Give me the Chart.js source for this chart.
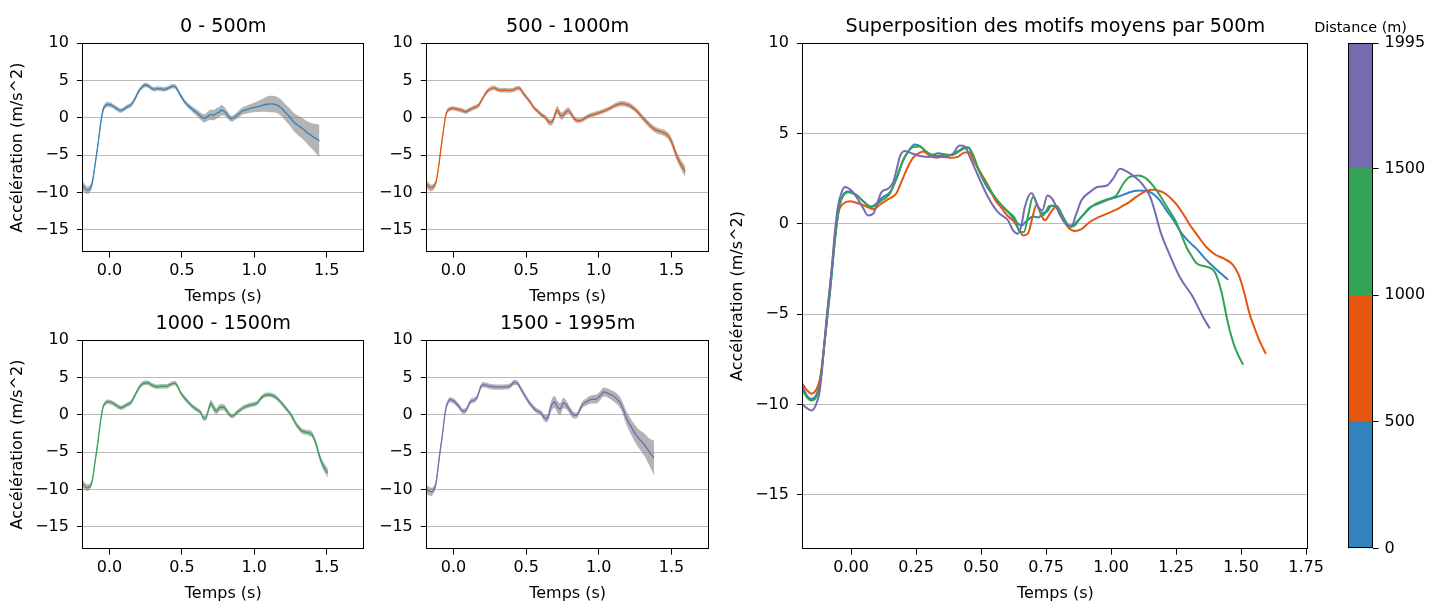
<!DOCTYPE html>
<html>
<head>
<meta charset="utf-8">
<script src="https://cdn.jsdelivr.net/npm/chart.js@4.4.1/dist/chart.umd.min.js"></script>
<style>
html,body{margin:0;padding:0;background:#fff;width:1443px;height:601px;overflow:hidden;}
.box{position:absolute;}
canvas{display:block;}
</style>
</head>
<body>
<script>
// ---------------- data ----------------
const panelTitles = ['0 - 500m', '500 - 1000m', '1000 - 1500m', '1500 - 1995m'];
const bigTitle = 'Superposition des motifs moyens par 500m';
const xAxisTitle = 'Temps (s)';
const yAxisTitle = 'Accélération (m/s^2)';
const colorbarTitle = 'Distance (m)';
const seriesColors = ['#3182bd', '#e6550d', '#31a354', '#756bb1'];

const yTicks = [-15, -10, -5, 0, 5, 10];
const yTickLabels = ['\u221215', '\u221210', '\u22125', '0', '5', '10'];
const xTicksSmall = [0, 0.5, 1.0, 1.5];
const xTickLabelsSmall = ['0.0', '0.5', '1.0', '1.5'];
const xTicksBig = [0, 0.25, 0.5, 0.75, 1.0, 1.25, 1.5, 1.75];
const xTickLabelsBig = ['0.00', '0.25', '0.50', '0.75', '1.00', '1.25', '1.50', '1.75'];
const cbBounds = [0, 500, 1000, 1500, 1995];
const cbTickLabels = ['0', '500', '1000', '1500', '1995'];

// 0 - 500 m : time (s), mean acceleration, std band
const t0_500 = [-0.187,-0.17,-0.152,-0.135,-0.12,-0.10,-0.08,-0.06,-0.045,-0.03,-0.012,0.02,0.05,0.078,0.10,0.12,0.15,0.175,0.20,0.22,0.245,0.265,0.29,0.31,0.335,0.36,0.38,0.41,0.435,0.45,0.47,0.49,0.52,0.55,0.58,0.61,0.636,0.655,0.675,0.70,0.72,0.738,0.755,0.771,0.79,0.81,0.822,0.841,0.867,0.89,0.918,0.95,0.982,1.015,1.046,1.085,1.11,1.15,1.187,1.215,1.24,1.27,1.30,1.33,1.36,1.38,1.41,1.43,1.45];
const acc0_500 = [-9.0,-9.5,-9.7,-9.5,-8.8,-6.3,-3.6,-0.6,1.0,1.6,1.78,1.6,1.2,0.95,1.15,1.45,1.75,2.5,3.5,4.0,4.38,4.3,3.95,3.8,3.9,3.85,3.8,4.0,4.2,4.2,3.7,3.0,2.1,1.5,1.0,0.55,0.1,-0.1,0.15,0.4,0.35,0.6,0.7,1.0,0.9,0.5,0.2,-0.15,0.1,0.45,0.9,1.1,1.3,1.45,1.6,1.8,1.84,1.75,1.3,0.7,0.2,-0.5,-1.0,-1.4,-1.9,-2.2,-2.6,-2.85,-3.1];
const sd0_500 = [0.6,0.6,0.5,0.5,0.5,0.5,0.5,0.4,0.4,0.35,0.35,0.3,0.3,0.3,0.3,0.3,0.3,0.3,0.3,0.3,0.3,0.3,0.3,0.3,0.3,0.3,0.3,0.3,0.3,0.3,0.3,0.3,0.3,0.35,0.4,0.45,0.5,0.55,0.6,0.7,0.7,0.7,0.7,0.7,0.6,0.5,0.45,0.4,0.4,0.45,0.5,0.55,0.6,0.7,0.8,1.0,1.1,1.1,1.1,1.1,1.15,1.2,1.3,1.4,1.5,1.6,1.8,2.0,2.15];

// 500 - 1000 m
const t500_1000 = [-0.187,-0.17,-0.152,-0.135,-0.12,-0.10,-0.088,-0.069,-0.056,-0.045,-0.031,-0.005,0.033,0.06,0.085,0.11,0.136,0.16,0.175,0.19,0.206,0.22,0.238,0.26,0.277,0.30,0.328,0.35,0.38,0.41,0.437,0.455,0.475,0.495,0.514,0.535,0.553,0.58,0.604,0.625,0.649,0.662,0.68,0.70,0.713,0.732,0.745,0.771,0.79,0.809,0.822,0.835,0.86,0.886,0.918,0.95,0.982,1.015,1.046,1.07,1.098,1.136,1.16,1.19,1.213,1.25,1.275,1.30,1.33,1.367,1.40,1.437,1.467,1.49,1.51,1.533,1.55,1.57,1.585,1.595];
const acc500_1000 = [-8.85,-9.2,-9.4,-9.2,-8.6,-6.3,-4.4,-1.7,0.0,0.8,1.1,1.25,1.1,0.95,0.8,1.05,1.3,1.5,1.7,2.2,2.75,3.2,3.65,3.9,4.0,3.8,3.65,3.7,3.65,3.7,3.95,3.95,3.4,2.9,2.45,1.9,1.35,0.85,0.4,0.15,-0.4,-0.65,-0.55,0.5,1.05,0.45,0.2,0.7,0.95,0.55,0.1,-0.2,-0.4,-0.3,0.1,0.35,0.55,0.75,1.0,1.2,1.5,1.82,1.88,1.8,1.62,1.1,0.6,0.0,-0.6,-1.3,-1.7,-1.95,-2.25,-2.8,-3.7,-5.0,-5.7,-6.45,-6.9,-7.2];
const sd500_1000 = [0.5,0.5,0.45,0.4,0.4,0.4,0.4,0.35,0.35,0.3,0.3,0.3,0.3,0.3,0.3,0.3,0.3,0.3,0.3,0.3,0.3,0.3,0.3,0.3,0.3,0.3,0.3,0.3,0.3,0.3,0.3,0.3,0.3,0.3,0.3,0.3,0.3,0.3,0.3,0.3,0.4,0.4,0.4,0.5,0.55,0.5,0.5,0.45,0.45,0.4,0.35,0.35,0.3,0.3,0.3,0.3,0.3,0.3,0.3,0.3,0.3,0.35,0.35,0.35,0.35,0.35,0.35,0.35,0.4,0.4,0.4,0.4,0.45,0.5,0.55,0.6,0.6,0.65,0.7,0.7];

// 1000 - 1500 m
const t1000_1500 = [-0.187,-0.17,-0.152,-0.135,-0.12,-0.10,-0.08,-0.06,-0.045,-0.03,-0.012,0.021,0.05,0.078,0.10,0.117,0.149,0.175,0.206,0.238,0.264,0.285,0.303,0.33,0.36,0.39,0.42,0.45,0.47,0.49,0.52,0.55,0.58,0.61,0.63,0.649,0.665,0.68,0.70,0.72,0.738,0.764,0.79,0.815,0.841,0.86,0.88,0.93,0.98,1.02,1.046,1.07,1.104,1.13,1.15,1.175,1.20,1.225,1.25,1.27,1.29,1.31,1.33,1.36,1.38,1.40,1.425,1.445,1.46,1.475,1.49,1.508];
const acc1000_1500 = [-9.2,-9.6,-9.78,-9.6,-8.9,-6.3,-3.6,-0.6,1.0,1.55,1.75,1.57,1.2,0.92,1.1,1.29,1.66,2.58,3.69,4.24,4.28,4.05,3.87,3.75,3.8,3.8,4.05,4.24,3.8,3.0,2.2,1.55,1.0,0.6,0.3,-0.46,-0.45,0.4,1.5,0.9,0.46,1.0,1.0,0.37,-0.18,-0.1,0.28,1.0,1.33,1.57,2.2,2.58,2.67,2.55,2.3,1.85,1.29,0.7,0.1,-0.6,-1.3,-1.8,-2.2,-2.35,-2.44,-2.7,-3.8,-5.2,-6.1,-6.8,-7.3,-7.8];
const sd1000_1500 = [0.5,0.5,0.45,0.4,0.4,0.4,0.4,0.35,0.3,0.3,0.3,0.3,0.3,0.3,0.3,0.3,0.3,0.3,0.3,0.3,0.3,0.3,0.3,0.3,0.3,0.3,0.3,0.3,0.3,0.3,0.3,0.3,0.3,0.3,0.3,0.35,0.35,0.4,0.5,0.5,0.45,0.45,0.4,0.35,0.3,0.3,0.3,0.3,0.3,0.3,0.3,0.3,0.3,0.3,0.3,0.3,0.3,0.3,0.3,0.35,0.35,0.35,0.35,0.35,0.4,0.4,0.45,0.5,0.5,0.55,0.6,0.6];

// 1500 - 1995 m
const t1500_1995 = [-0.187,-0.17,-0.152,-0.135,-0.12,-0.095,-0.075,-0.063,-0.05,-0.035,-0.024,0.0,0.021,0.045,0.065,0.085,0.10,0.117,0.142,0.162,0.175,0.187,0.206,0.238,0.277,0.32,0.36,0.39,0.418,0.437,0.46,0.488,0.527,0.565,0.604,0.623,0.642,0.655,0.668,0.694,0.72,0.735,0.755,0.775,0.803,0.828,0.848,0.865,0.886,0.918,0.95,0.982,1.008,1.034,1.06,1.09,1.12,1.15,1.168,1.19,1.213,1.264,1.315,1.354,1.38];
const acc1500_1995 = [-10.0,-10.2,-10.33,-10.0,-9.2,-5.35,-2.58,-0.55,1.0,1.8,2.03,1.85,1.47,0.9,0.46,0.55,1.1,1.75,1.94,2.3,3.0,3.69,4.02,3.87,3.72,3.7,3.72,3.85,4.33,4.28,3.6,2.67,1.47,0.64,0.18,-0.37,-0.55,-0.1,0.92,1.7,0.92,0.74,1.57,1.35,0.5,-0.05,-0.1,0.5,1.3,1.75,2.05,2.1,2.5,3.04,2.9,2.6,2.2,1.5,0.7,-0.45,-1.3,-2.95,-4.06,-5.17,-5.8];
const sd1500_1995 = [0.6,0.6,0.55,0.5,0.5,0.5,0.45,0.4,0.35,0.35,0.35,0.35,0.35,0.35,0.35,0.35,0.35,0.35,0.35,0.35,0.35,0.35,0.35,0.35,0.35,0.35,0.35,0.35,0.35,0.35,0.35,0.35,0.35,0.35,0.35,0.45,0.5,0.55,0.7,0.8,0.8,0.8,0.7,0.6,0.5,0.45,0.4,0.4,0.45,0.5,0.55,0.6,0.6,0.6,0.6,0.65,0.7,0.75,0.8,0.9,1.0,1.2,1.5,1.9,2.3];

const X_MIN = -0.187, X_MAX = 1.758, Y_MIN = -18, Y_MAX = 10;

// ---------------- helpers ----------------
const TIMES = [t0_500, t500_1000, t1000_1500, t1500_1995];
const MEANS = [acc0_500, acc500_1000, acc1000_1500, acc1500_1995];
const SDS = [sd0_500, sd500_1000, sd1000_1500, sd1500_1995];
const BAND = 'rgba(140,140,140,0.65)';
const TXT = '#000';
const GRID = '#bababa';
const TICK_FONT = 16, LABEL_FONT = 16, TITLE_FONT = 19.2;

Chart.defaults.font.family = "'DejaVu Sans', 'Liberation Sans', sans-serif";
Chart.defaults.color = TXT;

const framePlugin = {
  id: 'frame',
  afterDraw(chart) {
    const a = chart.chartArea, ctx = chart.ctx;
    ctx.save();
    ctx.strokeStyle = '#000';
    ctx.lineWidth = 1;
    const l = Math.round(a.left) + 0.5, t = Math.round(a.top) + 0.5;
    const r = Math.round(a.right) - 0.5, b = Math.round(a.bottom) - 0.5;
    ctx.strokeRect(l, t, r - l, b - t);
    ctx.restore();
  }
};

function pts(t, v) { const n = Math.min(t.length, v.length); const out = []; for (let k = 0; k < n; k++) out.push({x: t[k], y: v[k]}); return out; }

function xScale(ticks, labels) {
  return {
    type: 'linear', min: X_MIN, max: X_MAX,
    afterBuildTicks: s => { s.ticks = ticks.map(v => ({value: v})); },
    ticks: { callback: (v, i) => labels[i], font: {size: TICK_FONT}, color: TXT, padding: 4, maxRotation: 0, autoSkip: false },
    grid: { drawOnChartArea: false, drawTicks: true, tickLength: 5.5, tickColor: '#000', tickWidth: 1 },
    border: { display: false },
    title: { display: true, text: xAxisTitle, font: {size: LABEL_FONT}, color: TXT, padding: {top: 2, bottom: 0} }
  };
}
function yScale(showTitle) {
  return {
    type: 'linear', min: Y_MIN, max: Y_MAX,
    afterBuildTicks: s => { s.ticks = yTicks.map(v => ({value: v})); },
    ticks: { callback: (v, i) => yTickLabels[i], font: {size: TICK_FONT}, color: TXT, padding: 8, autoSkip: false },
    grid: { drawOnChartArea: true, color: GRID, lineWidth: 1, drawTicks: true, tickLength: 5.5, tickColor: '#000', tickWidth: 1 },
    border: { display: false },
    title: { display: showTitle, text: yAxisTitle, font: {size: LABEL_FONT}, color: TXT, padding: {top: 0, bottom: 0} }
  };
}
function baseOptions(title, scales) {
  return {
    responsive: false, maintainAspectRatio: false, animation: false, devicePixelRatio: 1,
    events: [],
    layout: { padding: 0 },
    plugins: {
      legend: { display: false }, tooltip: { enabled: false },
      title: { display: true, fullSize: false, text: title, font: {size: TITLE_FONT, weight: 'normal'}, color: TXT, padding: {top: 0, bottom: 5} }
    },
    scales: scales
  };
}

function smallCfg(i, showYTitle) {
  const t = TIMES[i], m = MEANS[i], s = SDS[i];
  const up = m.map((v, k) => v + s[k]);
  const lo = m.map((v, k) => v - s[k]);
  return {
    type: 'line',
    data: { datasets: [
      { data: pts(t, m), borderColor: seriesColors[i], borderWidth: 1.3, pointRadius: 0, fill: false, cubicInterpolationMode: 'monotone' },
      { data: pts(t, up), borderWidth: 0, borderColor: 'rgba(0,0,0,0)', backgroundColor: BAND, pointRadius: 0, fill: false, cubicInterpolationMode: 'monotone' },
      { data: pts(t, lo), borderWidth: 0, borderColor: 'rgba(0,0,0,0)', backgroundColor: BAND, pointRadius: 0, fill: '-1', cubicInterpolationMode: 'monotone' }
    ]},
    options: baseOptions(panelTitles[i], { x: xScale(xTicksSmall, xTickLabelsSmall), y: yScale(showYTitle) }),
    plugins: [framePlugin]
  };
}

function bigCfg() {
  const order = [3, 2, 1, 0];
  return {
    type: 'line',
    data: { datasets: TIMES.map((t, i) => ({
      data: pts(t, MEANS[i]), borderColor: seriesColors[i], borderWidth: 2, pointRadius: 0, fill: false,
      cubicInterpolationMode: 'monotone', order: order[i]
    })) },
    options: baseOptions(bigTitle, { x: xScale(xTicksBig, xTickLabelsBig), y: yScale(true) }),
    plugins: [framePlugin]
  };
}

const CB_AXIS_W = 58;
function cbCfg() {
  const ds = [];
  for (let k = 0; k < cbBounds.length - 1; k++) {
    ds.push({ data: [cbBounds[k + 1] - cbBounds[k]], backgroundColor: seriesColors[k], borderWidth: 0, barPercentage: 1, categoryPercentage: 1 });
  }
  const opts = baseOptions(colorbarTitle, {
    x: { stacked: true, display: false },
    y: {
      stacked: true, position: 'right', min: cbBounds[0], max: cbBounds[cbBounds.length - 1],
      afterBuildTicks: s => { s.ticks = cbBounds.map(v => ({value: v})); },
      afterFit: s => { s.width = CB_AXIS_W; },
      ticks: { callback: (v, i) => cbTickLabels[i], font: {size: TICK_FONT}, color: TXT, padding: 6, autoSkip: false },
      grid: { drawOnChartArea: false, drawTicks: true, tickLength: 5.5, tickColor: '#000', tickWidth: 1 },
      border: { display: false }
    },
    // empty spacer axis on the left so the colorbar title is centred over the bar
    spacer: {
      type: 'linear', position: 'left', min: 0, max: 1,
      afterFit: s => { s.width = CB_AXIS_W; },
      ticks: { display: false }, grid: { display: false }, border: { display: false }
    }
  });
  opts.plugins.title.font = {size: 14.4, weight: 'normal'};
  opts.plugins.title.fullSize = true;
  opts.plugins.title.padding = {top: 0, bottom: 6};
  return { type: 'bar', data: { labels: [''], datasets: ds }, options: opts, plugins: [framePlugin] };
}

function place(target, makeCfg) {
  const W0 = Math.round(target.r - target.l) + 240, H0 = Math.round(target.b - target.t) + 160;
  const probe = document.createElement('div');
  probe.className = 'box'; probe.style.left = '0px'; probe.style.top = '0px'; probe.style.visibility = 'hidden';
  const c0 = document.createElement('canvas'); c0.width = W0; c0.height = H0;
  c0.style.width = W0 + 'px'; c0.style.height = H0 + 'px';
  probe.appendChild(c0); document.body.appendChild(probe);
  const ch0 = new Chart(c0, makeCfg());
  const a = ch0.chartArea;
  const ml = a.left, mt = a.top, mr = W0 - a.right, mb = H0 - a.bottom;
  ch0.destroy(); probe.remove();

  const left = Math.round(target.l - ml), top = Math.round(target.t - mt);
  const W = Math.round(target.r - left + mr), H = Math.round(target.b - top + mb);
  const div = document.createElement('div');
  div.className = 'box'; div.style.left = left + 'px'; div.style.top = top + 'px';
  const c = document.createElement('canvas'); c.width = W; c.height = H;
  c.style.width = W + 'px'; c.style.height = H + 'px';
  div.appendChild(c); document.body.appendChild(div);
  return new Chart(c, makeCfg());
}

place({l: 82.7, t: 43, r: 363.5, b: 252}, () => smallCfg(0, true));
place({l: 426, t: 43, r: 709.3, b: 252}, () => smallCfg(1, false));
place({l: 82.7, t: 340.3, r: 363.5, b: 548.7}, () => smallCfg(2, true));
place({l: 426, t: 340.3, r: 709.3, b: 548.7}, () => smallCfg(3, false));
place({l: 802.7, t: 43, r: 1308.6, b: 549}, bigCfg);
place({l: 1348.3, t: 43, r: 1373, b: 548.7}, cbCfg);
</script>
</body>
</html>
